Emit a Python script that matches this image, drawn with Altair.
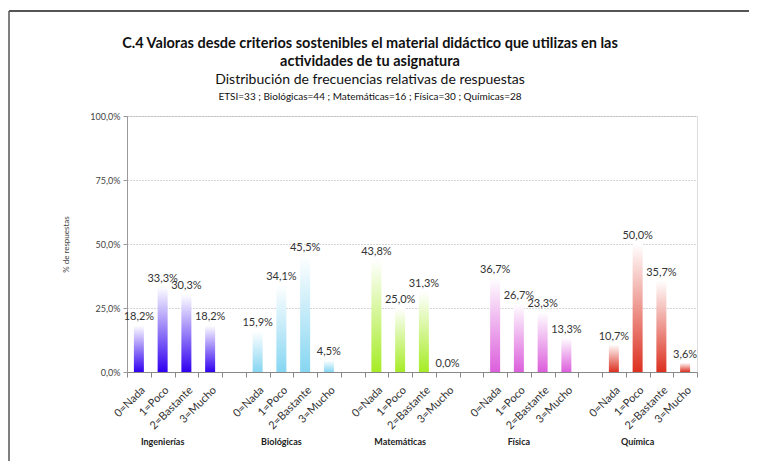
import altair as alt
import pandas as pd

groups = ["Ingenierías", "Biológicas", "Matemáticas", "Física", "Química"]
answers = ["0=Nada", "1=Poco", "2=Bastante", "3=Mucho"]
ing = [18.2, 33.3, 30.3, 18.2]
bio = [15.9, 34.1, 45.5, 4.5]
mat = [43.8, 25.0, 31.3, 0.0]
fis = [36.7, 26.7, 23.3, 13.3]
qui = [10.7, 50.0, 35.7, 3.6]
values = [ing, bio, mat, fis, qui]
colors = ["#3000f0", "#86d6f2", "#a6ec26", "#dc5edc", "#dc3020"]

title_lines = ["C.4  Valoras desde criterios sostenibles el material didáctico que utilizas en las",
               "actividades de tu asignatura"]
subtitle = "Distribución de frecuencias relativas de respuestas"
sample_line = "ETSI=33 ; Biológicas=44 ; Matemáticas=16 ; Física=30 ; Químicas=28"

rows = []
domain = []
for gi, g in enumerate(groups):
    for ai, a in enumerate(answers):
        key = f"{g}·{a}"
        domain.append(key)
        rows.append({"group": g, "answer": a, "key": key, "pct": values[gi][ai]})
    if gi < len(groups) - 1:
        domain.append(f"gap{gi}")
df = pd.DataFrame(rows)
gdf = pd.DataFrame({"group": groups, "key": [f"{g}·{answers[1]}" for g in groups]})

W, H = 570, 256
FONT = "Lato"
CX = 243

xenc = alt.X("key:N", sort=domain, scale=alt.Scale(domain=domain, paddingInner=0, paddingOuter=0),
             axis=alt.Axis(title=None, tickBand="extent", labelAngle=-45, labelFontSize=11,
                           labelColor="#333", labelFont=FONT, tickColor="#888", tickSize=5,
                           domainColor="#888", labelPadding=7,
                           labelExpr="indexof(datum.label, '·') >= 0 ? split(datum.label, '·')[1] : ''"))
yenc = alt.Y("pct:Q", scale=alt.Scale(domain=[0, 100]),
             axis=alt.Axis(title="% de respuestas", values=[0, 25, 50, 75, 100], titleFontSize=8,
                           titleFont=FONT, titleFontWeight="normal", titleColor="#444",
                           titleX=-57, labelFontSize=9, labelFont=FONT, labelColor="#444",
                           labelExpr="replace(format(datum.value, '.1f'), '.', ',') + '%'",
                           gridColor="#aaa", gridDash=[1, 2], domainColor="#999",
                           tickColor="#999", tickSize=4, labelPadding=3))

layers = []
for g, c in zip(groups, colors):
    grad = alt.Gradient(gradient="linear", x1=0, y1=0, x2=0, y2=1,
                        stops=[alt.GradientStop(color="#ffffff", offset=0),
                               alt.GradientStop(color=c, offset=1)])
    layers.append(alt.Chart(df).transform_filter(alt.datum.group == g)
                  .mark_bar(size=10, fill=grad).encode(x=xenc, y=yenc))

labels = alt.Chart(df).transform_calculate(
    lab="replace(format(datum.pct, '.1f'), '.', ',') + '%'"
).mark_text(dy=-8, fontSize=11, font=FONT, color="#333").encode(x=xenc, y=yenc, text="lab:N")

glabels = alt.Chart(gdf).mark_text(fontSize=9, font=FONT, fontWeight="bold", color="#222").encode(
    x=alt.X("key:N", sort=domain), y=alt.value(H + 70), text="group:N")

def header(text, y, size, weight="normal"):
    return alt.Chart(pd.DataFrame({"t": [text]})).mark_text(
        fontSize=size, font=FONT, fontWeight=weight, color="#111", baseline="middle").encode(
        x=alt.value(CX), y=alt.value(y), text="t:N")

heads = [header(title_lines[0], -72, 14.5, "bold"), header(title_lines[1], -54, 14.5, "bold"),
         header(subtitle, -36, 14), header(sample_line, -19, 10)]

frame = alt.Chart(pd.DataFrame({"a": [0]}))
top_line = frame.mark_rule(color="#555", strokeWidth=2).encode(
    x=alt.value(-118), x2=alt.value(640), y=alt.value(-105))
left_line = frame.mark_rule(color="#555", strokeWidth=1.5).encode(
    x=alt.value(-118), y=alt.value(-105), y2=alt.value(360))

chart = alt.layer(*layers, labels, glabels, *heads, top_line, left_line).properties(
    width=W, height=H,
    autosize=alt.AutoSizeParams(type="none"),
    padding={"left": 119, "top": 108, "right": 52, "bottom": 89},
).configure_view(stroke=None).configure(background="white")

chart.save("out.html", embed_options={"renderer": "svg", "actions": False})
